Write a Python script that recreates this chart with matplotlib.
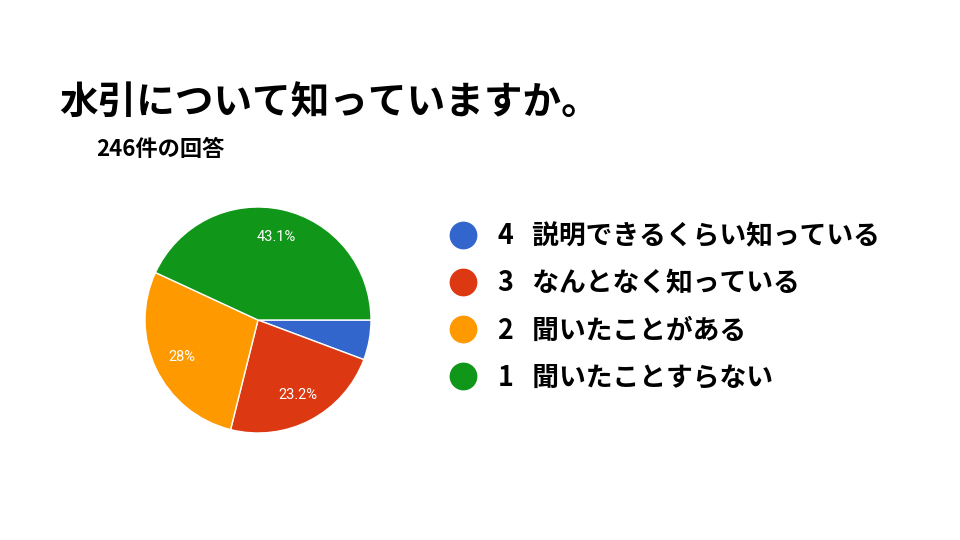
import matplotlib.pyplot as plt
from matplotlib.lines import Line2D

plt.rcParams['font.family'] = ['Noto Sans CJK JP', 'DejaVu Sans']

title = '水引について知っていますか。'
subtitle = '246件の回答'
labels = ['説明できるくらい知っている', 'なんとなく知っている', '聞いたことがある', '聞いたことすらない']
numbers = ['4', '3', '2', '1']
shares = [5.7, 23.2, 28.0, 43.1]
colors = ['#3366cc', '#dc3912', '#ff9900', '#109618']


def fmt(p):
    if p < 10:
        return ''
    return f'{round(p, 1):g}%'


fig = plt.figure(figsize=(9.6, 5.4), dpi=100)
fig.text(59 / 960, 1 - 103 / 540, title, fontsize=27.8, fontweight='bold', va='center')
fig.text(96 / 960, 1 - 150 / 540, subtitle, fontsize=16, fontweight='bold', va='center')

ax = fig.add_axes([145 / 960, 107 / 540, 226 / 960, 226 / 540])
wedges, texts, autotexts = ax.pie(
    shares, colors=colors, startangle=0, counterclock=False,
    autopct=fmt, pctdistance=0.75,
    wedgeprops=dict(edgecolor='white', linewidth=1),
    textprops=dict(color='white', fontsize=10.5, family=['Roboto', 'DejaVu Sans']))
ax.set_xlim(-1, 1)
ax.set_ylim(-1, 1)
ax.set_aspect('equal')

handles = [Line2D([], [], marker='o', linestyle='', markersize=19,
                  markerfacecolor=c, markeredgecolor=c) for c in colors]
leg_labels = [f'{n}   {t}' for n, t in zip(numbers, labels)]
fig.legend(handles, leg_labels, loc='upper left', bbox_to_anchor=(436 / 960, 1 - 209 / 540),
           frameon=False, prop=dict(size=19.3, weight='bold'),
           labelspacing=0.71, handletextpad=0.8, handlelength=1.0, borderpad=0)

fig.savefig('out.png', dpi=100)
